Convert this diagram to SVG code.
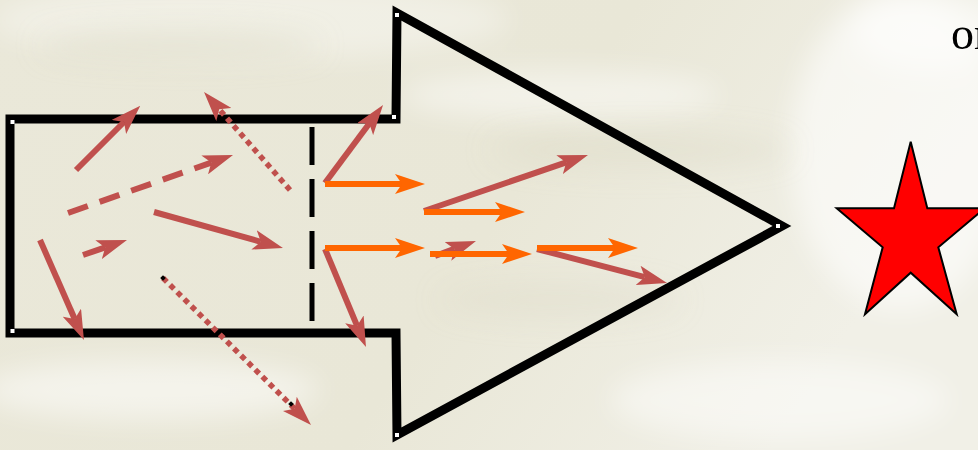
<svg xmlns="http://www.w3.org/2000/svg" width="978" height="450" viewBox="0 0 978 450">
  <defs>
    <filter id="blur" x="-50%" y="-50%" width="200%" height="200%">
      <feGaussianBlur stdDeviation="14"/>
    </filter>
    <linearGradient id="bg" x1="0" y1="0" x2="1" y2="0.3">
      <stop offset="0" stop-color="#EAE8D9"/>
      <stop offset="0.6" stop-color="#E9E7D7"/>
      <stop offset="1" stop-color="#F1F0E7"/>
    </linearGradient>
    <marker id="headRed" markerUnits="userSpaceOnUse" viewBox="0 0 30 20" markerWidth="30" markerHeight="20" refX="7" refY="10" orient="auto">
      <path d="M0,0 L30,10 L0,20 L7,10 Z" fill="#C0504D"/>
    </marker>
    <marker id="headOrange" markerUnits="userSpaceOnUse" viewBox="0 0 30 20" markerWidth="30" markerHeight="20" refX="7" refY="10" orient="auto">
      <path d="M0,0 L30,10 L0,20 L7,10 Z" fill="#FF6600"/>
    </marker>
    <style>
      .outline { fill: none; stroke: #000; stroke-width: 9; stroke-linejoin: miter; stroke-miterlimit: 10; }
      .vtx { fill: #FFFFFF; }
      .gate { fill: none; stroke: #000; stroke-width: 5; stroke-dasharray: 38 14; }
      .red { fill: none; stroke: #C0504D; stroke-width: 6; marker-end: url(#headRed); }
      .orange { fill: none; stroke: #FF6600; stroke-width: 6; marker-end: url(#headOrange); }
      .dashed { stroke-dasharray: 21 12.5; }
      .dotted { stroke-width: 5.5; stroke-dasharray: 5.5 4.5; }
      .handle { fill: #000; }
      .label { font-family: "Liberation Serif", "Times New Roman", serif; font-size: 46px; fill: #000; }
    </style>
  </defs>

  <!-- background -->
  <g id="background">
    <rect width="978" height="450" fill="url(#bg)"/>
    <g filter="url(#blur)" fill="#FFFFFF">
      <ellipse cx="250" cy="20" rx="260" ry="40" opacity="0.35"/>
      <ellipse cx="560" cy="95" rx="160" ry="25" opacity="0.45"/>
      <ellipse cx="150" cy="390" rx="170" ry="30" opacity="0.5"/>
      <ellipse cx="780" cy="400" rx="170" ry="40" opacity="0.45"/>
      <ellipse cx="900" cy="150" rx="110" ry="160" opacity="0.55"/>
      <ellipse cx="930" cy="30" rx="80" ry="40" opacity="0.5"/>
    </g>
    <g filter="url(#blur)" fill="#D9D6C2">
      <ellipse cx="180" cy="45" rx="140" ry="14" opacity="0.45"/>
      <ellipse cx="640" cy="150" rx="150" ry="18" opacity="0.35"/>
      <ellipse cx="560" cy="300" rx="120" ry="18" opacity="0.3"/>
    </g>
  </g>

  <!-- big block arrow outline -->
  <g id="block-arrow">
    <polygon class="outline" points="10,119 396,119 397,13 782,226 397,435 396,333 10,333"/>
    <rect class="vtx" x="10.5" y="120" width="4" height="4"/>
    <rect class="vtx" x="392" y="115" width="4" height="4"/>
    <rect class="vtx" x="395" y="13" width="4" height="4"/>
    <rect class="vtx" x="776" y="224" width="4" height="4"/>
    <rect class="vtx" x="395" y="433" width="4" height="4"/>
    <rect class="vtx" x="10.5" y="329" width="4" height="4"/>
  </g>

  <!-- dashed gate -->
  <g id="gate">
    <line class="gate" x1="312" y1="127" x2="312" y2="321"/>
  </g>

  <!-- connectors -->
  <g id="connectors">
    <!-- red arrows inside the box -->
    <line class="red" x1="76" y1="170" x2="124" y2="122"/>
    <line class="red dotted" x1="290" y1="190" x2="219.2" y2="109.3"/>
    <line class="red dashed" x1="68" y1="213" x2="211.3" y2="162.6"/>
    <line class="red" x1="154" y1="212" x2="260.8" y2="241.8"/>
    <line class="red" x1="83" y1="255" x2="105.2" y2="247.4"/>
    <line class="red" x1="40" y1="240" x2="74.7" y2="319"/>
    <line class="red dotted" x1="163" y1="278" x2="294.7" y2="408.8"/>
    <!-- red arrows beyond the gate -->
    <line class="red" x1="325" y1="183" x2="369.3" y2="123.5"/>
    <line class="red" x1="424" y1="211" x2="566.2" y2="162.4"/>
    <line class="red" x1="325" y1="249" x2="357.1" y2="325.8"/>
    <line class="red" x1="435" y1="256" x2="454.4" y2="248.9"/>
    <line class="red" x1="537" y1="249" x2="644.8" y2="277.2"/>
    <!-- orange arrows -->
    <line class="orange" x1="325" y1="184" x2="402" y2="184"/>
    <line class="orange" x1="424" y1="212" x2="502" y2="212"/>
    <line class="orange" x1="325" y1="248" x2="402" y2="248"/>
    <line class="orange" x1="430" y1="254" x2="509" y2="254"/>
    <line class="orange" x1="537" y1="248" x2="615" y2="248"/>
    <!-- handles of the dotted arrow -->
    <rect class="handle" x="161" y="276" width="4" height="4" transform="rotate(45 163 278)"/>
    <rect class="handle" x="289" y="402" width="4" height="4" transform="rotate(45 291 404)"/>
  </g>

  <!-- star -->
  <g id="star">
    <polygon points="910.7,141.7 927.3,208.3 984.7,208.3 938.3,247.3 956.7,314.3 910.7,272.7 865,314.3 882.7,247.3 836.7,208.3 894,208.3" fill="#FF0000" stroke="#000" stroke-width="2" stroke-linejoin="miter"/>
  </g>

  <!-- text -->
  <g id="label">
    <text class="label" x="951" y="49">or</text>
  </g>
</svg>
